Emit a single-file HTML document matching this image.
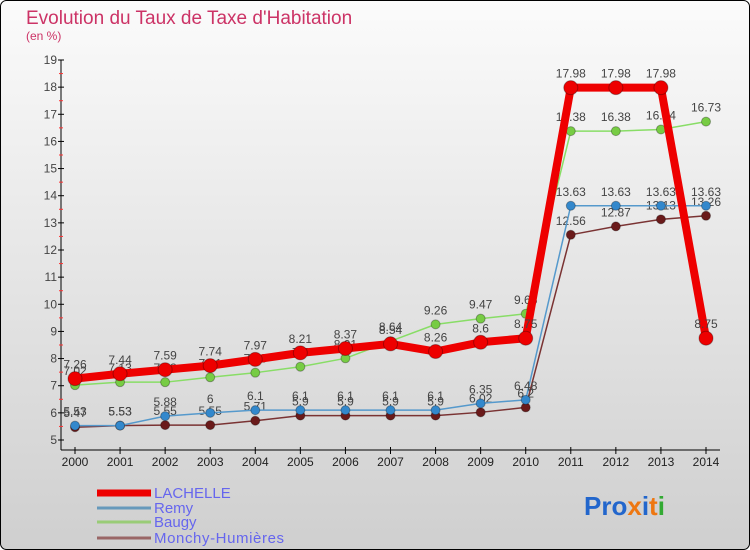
<!DOCTYPE html>
<html><head><meta charset="utf-8"><style>
body{margin:0;width:750px;height:550px;overflow:hidden}
svg{display:block;font-family:"Liberation Sans",sans-serif}
</style></head><body>
<svg id="chart" width="750" height="550" viewBox="0 0 750 550" xmlns="http://www.w3.org/2000/svg">
<defs><linearGradient id="bg" x1="0" y1="0" x2="0" y2="1"><stop offset="0" stop-color="#fbfbfb"/><stop offset="1" stop-color="#cfcfcf"/></linearGradient></defs>
<rect x="0.5" y="0.5" width="749" height="549" rx="6" fill="url(#bg)" stroke="#000"/>
<text x="26" y="24" font-size="19" fill="#cc3366">Evolution du Taux de Taxe d'Habitation</text>
<text x="26" y="40" font-size="12" fill="#cc3366">(en %)</text>
<g id="axes"></g>
<g id="series"></g>
<g id="legend"></g>
<text x="584" y="515" font-size="26" font-weight="bold"><tspan fill="#2266cc">Pro</tspan><tspan fill="#ee7711">x</tspan><tspan fill="#2266cc">i</tspan><tspan fill="#ee7711">t</tspan><tspan fill="#33aa33">i</tspan></text>
</svg>
<script>
const years=[2000,2001,2002,2003,2004,2005,2006,2007,2008,2009,2010,2011,2012,2013,2014];
const yTicks=[5,6,7,8,9,10,11,12,13,14,15,16,17,18,19];
const lachelle=[7.26,7.44,7.59,7.74,7.97,8.21,8.37,8.54,8.26,8.6,8.75,17.98,17.98,17.98,8.75];
const remy=[5.53,5.53,5.88,6,6.1,6.1,6.1,6.1,6.1,6.35,6.48,13.63,13.63,13.63,13.63];
const baugy=[7.02,7.13,7.13,7.31,7.48,7.7,8.01,8.64,9.26,9.47,9.65,16.38,16.38,16.44,16.73];
const monchy=[5.47,5.53,5.55,5.55,5.71,5.9,5.9,5.9,5.9,6.02,6.2,12.56,12.87,13.13,13.26];
const seriesNames=["LACHELLE","Remy","Baugy","Monchy-Humières"];

const NS="http://www.w3.org/2000/svg";
const X=i=>75+i*(706-75)/(years.length-1);
const Y=v=>440-(v-5)*(380/14);
function mk(tag,attrs,parent){const e=document.createElementNS(NS,tag);for(const k in attrs)e.setAttribute(k,attrs[k]);parent.appendChild(e);return e;}
const axes=document.getElementById('axes'),sg=document.getElementById('series'),lg=document.getElementById('legend');
let a=mk('line',{x1:61,y1:Y(19),x2:61,y2:450,stroke:'#000'},axes);


a=mk('line',{x1:61,y1:450,x2:720,y2:450,stroke:'#000'},axes);


yTicks.forEach(v=>{
  mk('line',{x1:58,x2:64,y1:Y(v),y2:Y(v),stroke:'#000'},axes);
  if(v<19)mk('line',{x1:59,x2:63,y1:Y(v+0.5),y2:Y(v+0.5),stroke:'#f33'},axes);
  const t=mk('text',{x:57,y:Y(v)+4,'font-size':12,fill:'#444','text-anchor':'end'},axes);
  
  
  t.textContent=v;
});
years.forEach((y,i)=>{
  mk('line',{x1:X(i),x2:X(i),y1:447,y2:454,stroke:'#000'},axes);
  const t=mk('text',{x:X(i),y:466,'font-size':12,fill:'#222','text-anchor':'middle'},axes);
  
  
  t.textContent=y;
});
function draw(data,name,color,w,r,dot){
  const g=mk('g',{},sg);
  
  
  const p=mk('polyline',{points:data.map((v,i)=>X(i)+','+Y(v)).join(' '),fill:'none',stroke:color,'stroke-width':w,'stroke-linejoin':'round'},g);
  
  
  data.forEach((v,i)=>{
    const c=mk('circle',{cx:X(i),cy:Y(v),r:r,fill:dot,stroke:'rgba(0,0,0,0.3)'},g);
    
    
    const t=mk('text',{x:X(i),y:Y(v)-10,'font-size':12,fill:'#444','text-anchor':'middle'},g);
    
    
    t.textContent=v;
  });
}
draw(monchy,'monchy','#7a3333',1.5,4.5,'#6a1a1a');
draw(remy,'remy','#5599cc',1.5,4.5,'#3388cc');
draw(baugy,'baugy','#88dd66',1.5,4.5,'#77cc44');
draw(lachelle,'lachelle','#ee0000',8,7,'#ee0000');
const lc=['#ee0000','#6699bb','#99cc77','#996666'],lw=[7,3,3,3],ly=[493,508,522,538];
seriesNames.forEach((n,i)=>{
  const l=mk('line',{x1:97,x2:151,y1:ly[i],y2:ly[i],stroke:lc[i],'stroke-width':lw[i]},lg);
  
  
  const t=mk('text',{x:154,y:ly[i]+5,'font-size':15,fill:'#6666ee',textLength:n.length>10?130:null},lg);
  if(n.length<=10)t.removeAttribute('textLength');
  
  
  t.textContent=n;
});
</script>
</body></html>
